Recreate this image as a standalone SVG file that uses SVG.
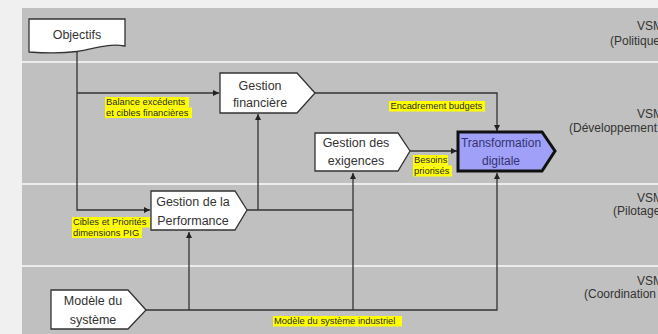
<svg xmlns="http://www.w3.org/2000/svg" width="658" height="334" viewBox="0 0 658 334">
<defs>
<style>
.lane{fill:#c0c0c0}
.sep{fill:#ececec}
.node{fill:#ffffff;stroke:#333333;stroke-width:1.3}
.tx{font-family:"Liberation Sans",Arial,sans-serif;font-size:12.5px;fill:#333333;text-anchor:middle}
.side{font-family:"Liberation Sans",Arial,sans-serif;font-size:12px;fill:#333333}
.lbl{font-family:"Liberation Sans",Arial,sans-serif;font-size:9.4px;fill:#2a2a2a}
.hl{fill:#ffff00}
.con{fill:none;stroke:#333333;stroke-width:1.3}
</style>
<marker id="arr" markerUnits="userSpaceOnUse" markerWidth="7" markerHeight="6" refX="6" refY="3" orient="auto">
<path d="M0,0 L6,3 L0,6 Z" fill="#222222"/>
</marker>
</defs>
<rect x="0" y="0" width="658" height="334" fill="#f0f0f0"/>
<g id="lanes">
<rect class="lane" x="22" y="8" width="636" height="326"/>
<rect class="sep" x="22" y="61" width="636" height="2"/>
<rect class="sep" x="22" y="183" width="636" height="2"/>
<rect class="sep" x="22" y="265" width="636" height="2"/>
<text class="side" x="637" y="30">VSM</text>
<text class="side" x="610" y="45">(Politique</text>
<text class="side" x="637" y="118">VSM</text>
<text class="side" x="569" y="132">(Développement</text>
<text class="side" x="637" y="202">VSM</text>
<text class="side" x="613" y="215">(Pilotage</text>
<text class="side" x="637" y="285">VSM</text>
<text class="side" x="584" y="298">(Coordination</text>
</g>
<g id="connectors">
<path class="con" d="M77,52 V210 H150" marker-end="url(#arr)"/>
<path class="con" d="M77,93 H219" marker-end="url(#arr)"/>
<path class="con" d="M315,93 H497 V131" marker-end="url(#arr)"/>
<path class="con" d="M410,151 H457" marker-end="url(#arr)"/>
<path class="con" d="M247,210 H353"/>
<path class="con" d="M258,210 V114" marker-end="url(#arr)"/>
<path class="con" d="M146,310 H497 V173" marker-end="url(#arr)"/>
<path class="con" d="M189,310 V232" marker-end="url(#arr)"/>
<path class="con" d="M353,310 V173" marker-end="url(#arr)"/>
</g>
<g id="labels">
<rect class="hl" x="105" y="97" width="84" height="10.5"/>
<rect class="hl" x="105" y="107.5" width="87" height="10.5"/>
<text class="lbl" x="106" y="105.3">Balance excédents</text>
<text class="lbl" x="106" y="115.8">et cibles financières</text>
<rect class="hl" x="389" y="101" width="96" height="10.5"/>
<text class="lbl" x="390.5" y="109.3">Encadrement budgets</text>
<rect class="hl" x="413" y="155" width="35" height="10.5"/>
<rect class="hl" x="413" y="165.5" width="39" height="11"/>
<text class="lbl" x="414" y="163.3">Besoins</text>
<text class="lbl" x="414" y="174.3">priorisés</text>
<rect class="hl" x="72" y="217" width="78" height="10.5"/>
<rect class="hl" x="72" y="227.5" width="70" height="10.5"/>
<text class="lbl" x="73" y="225.3">Cibles et Priorités</text>
<text class="lbl" x="73" y="235.8">dimensions PIG</text>
<rect class="hl" x="273" y="316" width="129" height="10.5"/>
<text class="lbl" x="274" y="324.3">Modèle du système industriel</text>
</g>
<g id="objectifs">
<path class="node" d="M29,19 H125 V46 C106,43 95,49 77,51.5 C58,54 42,53 29,52 Z"/>
<text class="tx" x="77" y="39">Objectifs</text>
</g>
<g id="gestion-financiere">
<path class="node" d="M220,73 H297 L315,93 L297,113 H220 Z"/>
<text class="tx" x="260" y="90">Gestion</text>
<text class="tx" x="260" y="107">financière</text>
</g>
<g id="gestion-exigences">
<path class="node" d="M315,133 H398 L410,151 L398,171 H315 Z"/>
<text class="tx" x="356" y="147">Gestion des</text>
<text class="tx" x="356" y="165">exigences</text>
</g>
<g id="transformation-digitale">
<path d="M458,132 H542 L555,151 L542,171 H458 Z" fill="#a0a0f8" stroke="#111111" stroke-width="3" stroke-linejoin="miter"/>
<text class="tx" x="501" y="147" style="fill:#333370;font-size:12px">Transformation</text>
<text class="tx" x="501" y="165" style="fill:#333370;font-size:12px">digitale</text>
</g>
<g id="gestion-performance">
<path class="node" d="M151,191 H235 L247,210 L235,230 H151 Z"/>
<text class="tx" x="193" y="206">Gestion de la</text>
<text class="tx" x="193" y="225">Performance</text>
</g>
<g id="modele-systeme">
<path class="node" d="M51,290 H128 L146,310 L128,329 H51 Z"/>
<text class="tx" x="93" y="305">Modèle du</text>
<text class="tx" x="93" y="324">système</text>
</g>
</svg>
